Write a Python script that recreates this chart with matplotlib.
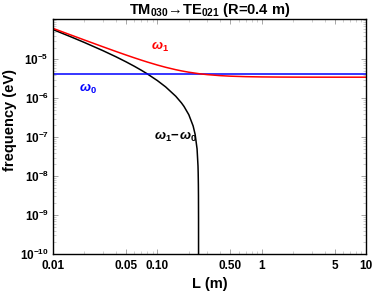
import matplotlib
matplotlib.use("Agg")
import matplotlib.pyplot as plt
from matplotlib.ticker import FixedLocator, LogLocator, NullFormatter

plt.rcParams['font.family'] = ['Liberation Sans', 'DejaVu Sans']
plt.rcParams['font.weight'] = 'bold'
plt.rcParams['mathtext.fontset'] = 'custom'
plt.rcParams['mathtext.rm'] = 'Liberation Sans:bold'
plt.rcParams['mathtext.it'] = 'Liberation Sans:italic:bold'
plt.rcParams['mathtext.bf'] = 'Liberation Sans:bold'
plt.rcParams['mathtext.fallback'] = 'cm'

# Data
L_vals = [0.01, 0.015, 0.02, 0.03, 0.04, 0.05, 0.06, 0.07, 0.08, 0.1, 0.12, 0.15,
          0.17, 0.2, 0.25, 0.3, 0.4, 0.5, 0.7, 1.0, 1.5, 2.0, 3.0, 5.0, 10.0]
omega1 = [6.209e-5, 4.147e-5, 3.119e-5, 2.095e-5, 1.588e-5, 1.287e-5, 1.0896e-5, 9.508e-6,
          8.487e-6, 7.100e-6, 6.218e-6, 5.391e-6, 5.028e-6, 4.646e-6, 4.258e-6, 4.031e-6,
          3.792e-6, 3.676e-6, 3.572e-6, 3.516e-6, 3.486e-6, 3.475e-6, 3.467e-6, 3.463e-6, 3.461e-6]
omega0_L = [0.01, 10.0]
omega0 = [4.269e-6, 4.269e-6]
diff_L = [0.01, 0.015, 0.02, 0.03, 0.04, 0.05, 0.06, 0.07, 0.08, 0.1, 0.12, 0.15, 0.17,
          0.18, 0.2, 0.22, 0.23, 0.24, 0.245, 0.246, 0.247, 0.2475, 0.2479, 0.24802]
diff_vals = [5.782e-5, 3.720e-5, 2.692e-5, 1.668e-5, 1.161e-5, 8.603e-6, 6.627e-6, 5.239e-6,
             4.218e-6, 2.831e-6, 1.949e-6, 1.122e-6, 7.585e-7, 6.135e-7, 3.770e-7, 1.939e-7,
             1.176e-7, 4.98e-8, 1.82e-8, 1.216e-8, 6.13e-9, 3.14e-9, 8.0e-10, 5.0e-11]
x_ticks = [0.01, 0.05, 0.10, 0.50, 1, 5, 10]
x_ticklabels = ['0.01', '0.05', '0.10', '0.50', '1', '5', '10']
y_ticks = [1e-10, 1e-9, 1e-8, 1e-7, 1e-6, 1e-5]
y_ticklabels = [r'$10^{-10}$', r'$10^{-9}$', r'$10^{-8}$', r'$10^{-7}$', r'$10^{-6}$', r'$10^{-5}$']

fig = plt.figure(figsize=(3.74, 2.95), dpi=100)
ax = fig.add_axes([0.1417, 0.139, 0.8373, 0.795])

ax.plot(diff_L, diff_vals, color='black', lw=1.1)
ax.plot(omega0_L, omega0, color='#0000ff', lw=1.1)
ax.plot(L_vals, omega1, color='#ff0000', lw=1.1)

ax.set_xscale('log')
ax.set_yscale('log')
ax.set_xlim(0.01, 10)
ax.set_ylim(1e-10, 1.05e-4)

ax.xaxis.set_major_locator(FixedLocator(x_ticks))
ax.set_xticklabels(x_ticklabels)
ax.xaxis.set_minor_locator(LogLocator(base=10, subs=range(1, 10), numticks=20))
ax.xaxis.set_minor_formatter(NullFormatter())
ax.yaxis.set_major_locator(FixedLocator(y_ticks))
ax.set_yticklabels(y_ticklabels)
ax.yaxis.set_minor_locator(LogLocator(base=10, subs=range(1, 10), numticks=20))
ax.yaxis.set_minor_formatter(NullFormatter())

ax.tick_params(which='major', direction='in', length=3.5, width=0.6, color='#999999',
               labelsize=8.5, pad=3, top=True, right=True)
ax.tick_params(axis='x', which='major', pad=4)
ax.tick_params(which='minor', direction='in', length=2, width=0.5, color='#bbbbbb',
               top=True, right=True)
for lbl in ax.get_xticklabels() + ax.get_yticklabels():
    lbl.set_fontweight('bold')

for s in ax.spines.values():
    s.set_linewidth(1.0)
    s.set_color('black')

ax.set_title(r'TM$_{030}$→TE$_{021}$ (R=0.4 m)', fontsize=10.5, fontweight='bold', pad=3)
ax.set_xlabel('L (m)', fontsize=10.5, fontweight='bold', labelpad=4)
ax.set_ylabel('frequency (eV)', fontsize=10.5, fontweight='bold', labelpad=1)
ax.yaxis.set_label_coords(-0.115, 0.573)

ax.text(0.106, 2.07e-5, r'$\omega_1$', color='#ff0000', fontsize=9.5, ha='center', va='center')
ax.text(0.0217, 1.74e-6, r'$\omega_0$', color='#0000ff', fontsize=9.5, ha='center', va='center')
ax.text(0.150, 1.02e-7, r'$\omega_1\!-\!\omega_0$', color='black', fontsize=9.5, ha='center', va='center')

fig.savefig('out.png', dpi=100)
